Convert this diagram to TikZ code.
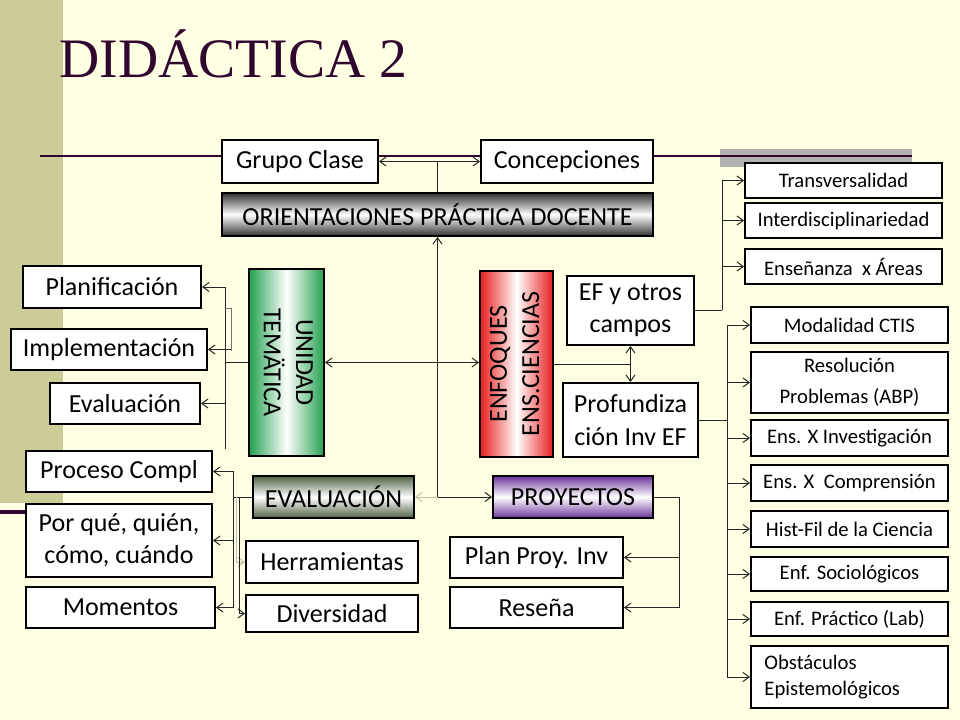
\documentclass[tikz,border=0pt]{standalone}
\usepackage{fontspec}
\setmainfont{Carlito}
\newfontfamily\titlefont{Liberation Serif}
\usetikzlibrary{arrows,arrows.meta}

\definecolor{paper}{RGB}{255,255,227}
\definecolor{oliveband}{RGB}{204,204,153}
\definecolor{grayband}{RGB}{178,178,178}
\definecolor{titlepurple}{RGB}{48,6,48}
\definecolor{faint}{RGB}{190,190,160}
\definecolor{greenbox}{RGB}{36,160,78}
\definecolor{redbox}{RGB}{232,28,28}
\definecolor{olivebox}{RGB}{80,98,66}
\definecolor{purplebox}{RGB}{108,52,156}

\begin{document}
\begin{tikzpicture}[x=0.025cm,y=-0.025cm,>={Straight Barb[length=4.5pt,width=6.5pt]},
	wh/.style 2 args={minimum width=#1*0.025cm,minimum height=#2*0.025cm}]

	\tikzstyle big box=[draw=black, line width=1.4pt, fill=white, inner sep=0pt, align=center, font=\fontsize{18.5}{23}\selectfont];
	\tikzstyle small box=[big box, font=\fontsize{14.7}{22}\selectfont];
	\tikzstyle link lines=[line width=0.7pt, draw=black!85];
	\tikzstyle faint lines=[line width=0.7pt, draw=faint];
	\tikzstyle band lines=[line width=2pt, draw=titlepurple];

	% page and title
	\fill[paper] (0,0) rectangle (960,720);
	\useasboundingbox (0,0) rectangle (960,720);
	\fill[oliveband] (0,0) rectangle (63,503);
	\fill[grayband] (720,149) rectangle (912,167);
	\draw[band lines] (40,156) -- (912,156);
	\draw[band lines, line width=2.5pt] (0,512) -- (60,512);
	\node[anchor=base west, inner sep=0pt, text=titlepurple, font=\titlefont\fontsize{39.6}{48}\selectfont] (title) at (59,78) {DIDÁCTICA 2};

	% top row
	\node[big box, wh={156}{43}] (grupo) at (300,161.5) {Grupo Clase};
	\node[big box, wh={172}{43}] (concep) at (567,161.5) {Concepciones};
	\node[big box, wh={431}{43}, top color=black!80, bottom color=black!80, middle color=white] (orient) at (437.5,214.5) {ORIENTACIONES PRÁCTICA DOCENTE};

	% middle
	\node[big box, wh={75}{187}, left color=greenbox, right color=greenbox, middle color=white] (unidad) at (286.5,362.5) {\rotatebox{-90}{\begin{tabular}{@{}c@{}}UNIDAD\\TEMÄTICA\end{tabular}}};
	\node[big box, wh={73}{186}, left color=redbox, right color=redbox, middle color=white] (enfoques) at (516.5,364) {\rotatebox{90}{\begin{tabular}{@{}c@{}}ENFOQUES\\ENS.CIENCIAS\end{tabular}}};
	\node[big box, wh={127}{69}] (efotros) at (630.5,310.5) {EF y otros\\campos};
	\node[big box, wh={135}{74}] (profund) at (630.5,420) {Profundiza\\ción Inv EF};

	% left column
	\node[big box, wh={178}{42}] (plan) at (112,287) {Planificación};
	\node[big box, wh={196}{41}] (impl) at (109,349.5) {Implementación};
	\node[big box, wh={150}{41}] (evalu) at (125,403.5) {Evaluación};
	\node[big box, wh={186}{41}] (proceso) at (119,471.5) {Proceso Compl};
	\node[big box, wh={186}{73}] (porque) at (119,540.5) {Por qué, quién,\\cómo, cuándo};
	\node[big box, wh={189}{41}] (momentos) at (120.5,607.5) {Momentos};

	% bottom
	\node[big box, wh={161}{42}, top color=olivebox, bottom color=olivebox, middle color=white] (evaluacion) at (333.5,497) {EVALUACIÓN};
	\node[big box, wh={172}{42}] (herram) at (332,562) {Herramientas};
	\node[big box, wh={172}{37}] (divers) at (332,613.5) {Diversidad};
	\node[big box, wh={160}{42}, top color=purplebox, bottom color=purplebox, middle color=white] (proyectos) at (573,497) {PROYECTOS};
	\node[big box, wh={173}{41}] (planproy) at (536.5,557.5) {Plan Proy. Inv};
	\node[big box, wh={173}{41}] (resena) at (536.5,607.5) {Reseña};

	% right columns
	\foreach \n/\y/\txt in {trans/180.5/Transversalidad, inter/220.5/Interdisciplinariedad, areas/266.5/Enseñanza~ x Áreas}
		\node[small box, wh={197}{35}] (\n) at (843.5,\y) {\txt};
	\foreach \n/\y/\h/\txt in {modal/325/36/Modalidad CTIS, resol/382.5/61/{Resolución\\Problemas (ABP)}, ensinv/438/36/Ens. X Investigación, enscomp/483/36/Ens. X~ Comprensión, hist/529/36/Hist-Fil de la Ciencia, socio/574/34/Enf. Sociológicos, pract/619/34/Enf. Práctico (Lab)}
		\node[small box, wh={197}{\h}] (\n) at (849.5,\y) {\txt};
	\node[small box, wh={197}{62}, text width=4.25cm, align=left, font=\fontsize{14.7}{18.5}\selectfont] (obst) at (849.5,677) {Obstáculos\\Epistemológicos};

	% connectors
	\draw[link lines,<->] (grupo) -- (concep);
	\draw[link lines] (orient.north) -- (orient.north |- grupo.east);
	\coordinate (hub) at (orient.south |- proyectos.west);
	\draw[link lines,->] (hub) -- (orient.south);
	\draw[link lines,->] (hub) -- (proyectos.west);
	\draw[faint lines,->] (hub) -- (evaluacion.east);
	\draw[link lines,<->] (unidad.east) -- (unidad.east -| enfoques.west);

	\draw[link lines] (unidad.west) -- ++(-23,0) coordinate (ut) -- ++(0,87);
	\foreach \n in {plan,evalu}
		\draw[link lines,->] (ut) |- (\n.east);
	\draw[faint lines, draw=black!55] (ut |- plan.south) -- ++(6,0) -- ++(0,42);
	\draw[link lines,->] (ut |- impl.east) ++(6,0) -- (impl.east);

	\draw[link lines] (evaluacion.west) -- ++(-19,0) coordinate (et);
	\foreach \n in {proceso,porque,momentos}
		\draw[link lines,->] (et) |- (\n.east);
	\draw[faint lines,->] (et) ++(3,0) |- (herram.west);
	\draw[link lines,->] (et) ++(6,0) |- (divers.west);

	\draw[link lines] (proyectos.east) -- ++(25,0) coordinate (pt);
	\foreach \n in {planproy,resena}
		\draw[link lines,->] (pt) |- (\n.east);

	\draw[link lines] (enfoques.east) -- (enfoques.east -| efotros.south);
	\draw[link lines,<->] (efotros.south) -- (profund.north);

	\draw[link lines] (efotros.east) -- ++(27,0) coordinate (gt);
	\foreach \n in {trans,inter,areas}
		\draw[link lines,->] (gt) |- (\n.west);
	\draw[link lines] (profund.east) -- ++(28,0) coordinate (pr);
	\foreach \n in {modal,resol,ensinv,enscomp,hist,socio,pract,obst}
		\draw[link lines,->] (pr) |- (\n.west);

\end{tikzpicture}
\end{document}
